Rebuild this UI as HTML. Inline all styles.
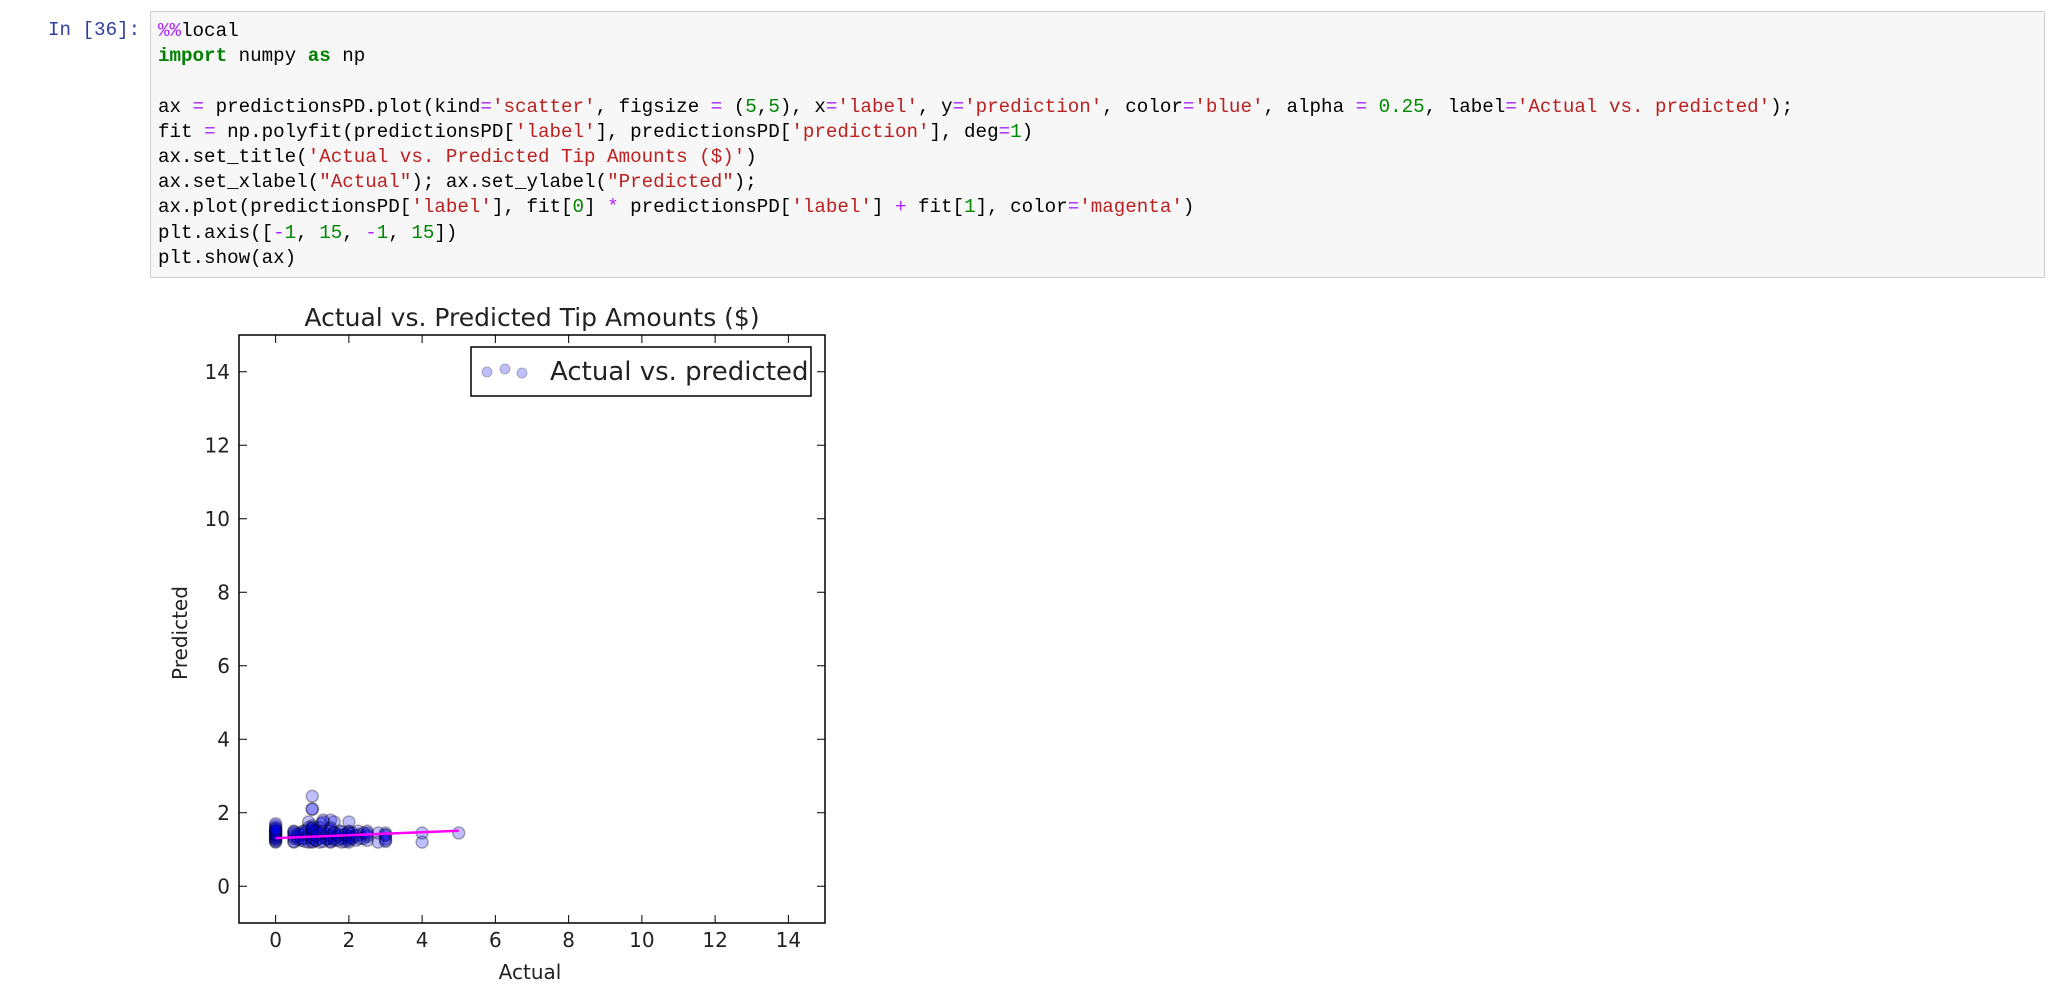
<!DOCTYPE html>
<html><head><meta charset="utf-8">
<style>
body{margin:0;width:2049px;height:986px;background:#fff;overflow:hidden;position:relative;font-family:"Liberation Sans",sans-serif}
#prompt{position:absolute;left:48px;top:19px;font:19.2px "Liberation Mono",monospace;color:#303F9F}
#cell{position:absolute;left:150px;top:11px;width:1895px;height:267px;background:#f7f7f7;border:1px solid #cfcfcf;border-radius:2px;box-sizing:border-box}
#code{position:absolute;left:158px;top:19px;margin:0;font:19.2px/25.2px "Liberation Mono",monospace;color:#000;white-space:pre}
.k{color:#008000;font-weight:bold}.s{color:#BA2121}.n{color:#008800}.o{color:#AA22FF}
svg{position:absolute;left:0;top:0}
svg text{font-family:"DejaVu Sans",sans-serif;fill:#222}
</style></head><body>
<div id="prompt">In [36]:</div>
<div id="cell"></div>
<pre id="code"><span class="o">%%</span>local
<span class="k">import</span> numpy <span class="k">as</span> np

ax <span class="o">=</span> predictionsPD.plot(kind<span class="o">=</span><span class="s">'scatter'</span>, figsize <span class="o">=</span> (<span class="n">5</span>,<span class="n">5</span>), x<span class="o">=</span><span class="s">'label'</span>, y<span class="o">=</span><span class="s">'prediction'</span>, color<span class="o">=</span><span class="s">'blue'</span>, alpha <span class="o">=</span> <span class="n">0.25</span>, label<span class="o">=</span><span class="s">'Actual vs. predicted'</span>);
fit <span class="o">=</span> np.polyfit(predictionsPD[<span class="s">'label'</span>], predictionsPD[<span class="s">'prediction'</span>], deg<span class="o">=</span><span class="n">1</span>)
ax.set_title(<span class="s">'Actual vs. Predicted Tip Amounts ($)'</span>)
ax.set_xlabel(<span class="s">"Actual"</span>); ax.set_ylabel(<span class="s">"Predicted"</span>);
ax.plot(predictionsPD[<span class="s">'label'</span>], fit[<span class="n">0</span>] <span class="o">*</span> predictionsPD[<span class="s">'label'</span>] <span class="o">+</span> fit[<span class="n">1</span>], color<span class="o">=</span><span class="s">'magenta'</span>)
plt.axis([<span class="o">-</span><span class="n">1</span>, <span class="n">15</span>, <span class="o">-</span><span class="n">1</span>, <span class="n">15</span>])
plt.show(ax)</pre>
<svg id="chart" width="2049" height="986"></svg>
<script>
const actualVals=[0,0,0,0,0,0,0,0,0,0,0,0,0.5,0.5,0.5,0.5,0.5,0.6,0.7,0.75,0.75,0.8,0.8,0.9,0.9,1,1,1,1,1,1,1,1,1,1,1.1,1.1,1.2,1.2,1.25,1.25,1.3,1.3,1.4,1.5,1.5,1.5,1.5,1.5,1.5,1.6,1.6,1.7,1.75,1.8,1.8,1.9,2,2,2,2,2,2,2.1,2.2,2.25,2.3,2.4,2.5,2.5,2.5,2.8,2.8,3,3,3,3,4,4,5,1.3,1.2,0.9,1.6,
0,0,0,0,0,0,0,0,0.5,0.5,0.5,0.6,0.6,0.7,0.7,0.8,0.8,0.9,1,1,1,1,1,1.1,1.1,1.1,1.2,1.2,1.3,1.3,1.4,1.4,1.5,1.5,1.5,1.6,1.6,1.7,1.7,1.8,1.8,1.9,1.9,2,2,2,2.1,2.1,2.2,2.3,2.4,2.5,2.5,3,3];
const predictedVals=[1.2,1.25,1.3,1.35,1.4,1.45,1.5,1.55,1.6,1.65,1.7,1.5,1.2,1.3,1.4,1.5,1.45,1.35,1.25,1.4,1.5,1.3,1.45,1.2,1.75,1.2,1.3,1.4,1.5,1.55,1.6,1.65,2.1,2.1,2.45,1.25,1.5,1.2,1.4,1.35,1.7,1.45,1.8,1.3,1.2,1.3,1.4,1.5,1.8,1.6,1.25,1.45,1.35,1.5,1.2,1.4,1.3,1.2,1.3,1.4,1.5,1.75,1.45,1.35,1.25,1.5,1.4,1.3,1.25,1.4,1.5,1.2,1.45,1.25,1.3,1.4,1.45,1.2,1.45,1.45,1.75,1.6,1.6,1.75,
1.22,1.28,1.33,1.38,1.42,1.47,1.52,1.57,1.22,1.35,1.48,1.28,1.42,1.3,1.45,1.22,1.5,1.38,1.22,1.32,1.42,1.52,1.58,1.25,1.38,1.5,1.3,1.45,1.22,1.5,1.28,1.42,1.22,1.35,1.55,1.3,1.45,1.25,1.4,1.3,1.48,1.22,1.4,1.25,1.35,1.48,1.3,1.45,1.38,1.3,1.45,1.35,1.45,1.22,1.38];
const fitX=[0,5];
const fitY=[1.31,1.51];
const xTicks=[0,2,4,6,8,10,12,14];
const yTicks=[0,2,4,6,8,10,12,14];
const NS='http://www.w3.org/2000/svg';
const svg=document.getElementById('chart');
const L=239,R=825,T=335,B=923,XMIN=-1,XMAX=15,YMIN=-1,YMAX=15;
const sx=v=>L+(v-XMIN)/(XMAX-XMIN)*(R-L);
const sy=v=>B-(v-YMIN)/(YMAX-YMIN)*(B-T);
function mk(tag,attrs){const e=document.createElementNS(NS,tag);for(const k in attrs)e.setAttribute(k,attrs[k]);svg.appendChild(e);return e;}
actualVals.forEach((a,i)=>{
  const c=mk('circle',{cx:sx(a),cy:sy(predictedVals[i]),r:6,fill:'rgba(0,0,255,0.25)',stroke:'rgba(0,0,0,0.3)','stroke-width':1.5});
  
  
});
const fl=mk('line',{x1:sx(fitX[0]),y1:sy(fitY[0]),x2:sx(fitX[1]),y2:sy(fitY[1]),stroke:'#ff00ff','stroke-width':2.5});


const fr=mk('rect',{x:L,y:T,width:R-L,height:B-T,fill:'none',stroke:'#000','stroke-width':1.5});


xTicks.forEach(t=>{
  const x=sx(t);
  mk('line',{x1:x,y1:B,x2:x,y2:B-8,stroke:'#000','stroke-width':1});
  mk('line',{x1:x,y1:T,x2:x,y2:T+8,stroke:'#000','stroke-width':1});
  const tx=mk('text',{x:x,y:947,'font-size':20,'text-anchor':'middle'});tx.textContent=t;
  
  
});
yTicks.forEach(t=>{
  const y=sy(t);
  mk('line',{x1:L,y1:y,x2:L+8,y2:y,stroke:'#000','stroke-width':1});
  mk('line',{x1:R,y1:y,x2:R-8,y2:y,stroke:'#000','stroke-width':1});
  const tx=mk('text',{x:230,y:y+7,'font-size':20,'text-anchor':'end'});tx.textContent=t;
  
  
});
const title=mk('text',{x:532,y:326,'font-size':25,'text-anchor':'middle'});title.textContent='Actual vs. Predicted Tip Amounts ($)';


const xl=mk('text',{x:530,y:979,'font-size':20,'text-anchor':'middle'});xl.textContent='Actual';


const yl=mk('text',{x:187,y:633,'font-size':20,'text-anchor':'middle',transform:'rotate(-90 187 633)'});yl.textContent='Predicted';


const lg=mk('rect',{x:471,y:347,width:340,height:49,fill:'#fff',stroke:'#000','stroke-width':1.5});


[[487,372],[505,369],[522,373]].forEach(p=>{mk('circle',{cx:p[0],cy:p[1],r:5,fill:'rgba(0,0,255,0.25)',stroke:'rgba(0,0,0,0.25)','stroke-width':1});});
const lt=mk('text',{x:550,y:380,'font-size':26});lt.textContent='Actual vs. predicted';


</script>
</body></html>
